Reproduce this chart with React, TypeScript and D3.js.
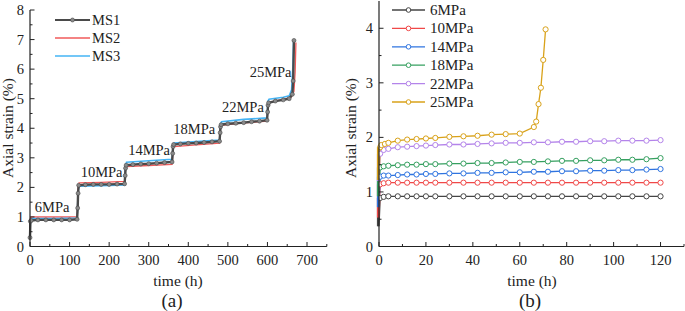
import React from "react";
import * as d3 from "d3";

// ---------- Panel (a) data ----------
const MS1_T = [0, 1, 3, 20, 40, 60, 80, 100, 119, 120.5, 121.5, 123, 140, 160, 180, 200, 220, 239, 240.5, 241.5, 243, 260, 280, 300, 320, 340, 359, 360.5, 361.5, 363, 380, 400, 420, 440, 460, 479, 480.5, 481.5, 483, 500, 520, 540, 560, 580, 599, 600.5, 601.5, 603, 620, 640, 655, 663, 665, 667];
const MS1_V = [0.3, 0.85, 0.88, 0.9, 0.9, 0.9, 0.9, 0.9, 0.92, 1.3, 1.8, 2.07, 2.09, 2.1, 2.1, 2.1, 2.11, 2.12, 2.4, 2.65, 2.75, 2.77, 2.79, 2.8, 2.82, 2.84, 2.86, 3.15, 3.38, 3.45, 3.47, 3.49, 3.5, 3.52, 3.54, 3.56, 3.85, 4.05, 4.12, 4.15, 4.17, 4.19, 4.22, 4.24, 4.27, 4.55, 4.78, 4.86, 4.92, 4.96, 5.0, 5.15, 5.6, 6.97];
const MS2_T = [0, 1, 3, 60, 119, 120.5, 121.5, 124, 180, 239, 240.5, 241.5, 244, 300, 359, 360.5, 361.5, 364, 420, 479, 480.5, 481.5, 484, 540, 599, 600.5, 601.5, 604, 640, 660, 667, 670, 672];
const MS2_V = [0.4, 0.95, 1.0, 1.0, 1.01, 1.5, 2.0, 2.15, 2.17, 2.2, 2.45, 2.62, 2.7, 2.74, 2.78, 3.05, 3.3, 3.38, 3.44, 3.5, 3.8, 4.03, 4.1, 4.18, 4.24, 4.55, 4.78, 4.88, 4.98, 5.05, 5.25, 5.9, 6.9];
const MS3_T = [0, 1, 3, 60, 119, 120.5, 121.5, 124, 180, 239, 240.5, 241.5, 244, 300, 359, 360.5, 361.5, 364, 420, 479, 480.5, 481.5, 484, 540, 599, 600.5, 601.5, 604, 640, 655, 661, 664, 666];
const MS3_V = [0.35, 0.9, 0.95, 0.95, 0.97, 1.4, 1.9, 2.04, 2.06, 2.08, 2.45, 2.75, 2.85, 2.9, 2.95, 3.2, 3.45, 3.5, 3.55, 3.6, 3.9, 4.15, 4.22, 4.3, 4.35, 4.7, 4.92, 4.98, 5.05, 5.1, 5.3, 6.0, 6.95];
const STAGE_LABELS = ["6MPa", "10MPa", "14MPa", "18MPa", "22MPa", "25MPa"];
const STAGE_LABEL_X = [12, 128, 248, 362, 485, 555];
const STAGE_LABEL_Y = [1.17, 2.35, 3.1, 3.8, 4.55, 5.72];
const X_TICKS_A = [0, 100, 200, 300, 400, 500, 600, 700];
const Y_TICKS_A = [0, 1, 2, 3, 4, 5, 6, 7, 8];
const LEGEND_A = ["MS1", "MS2", "MS3"];

// ---------- Panel (b) data ----------
const TIME_B = [0, 0.5, 2, 4, 8, 12, 16, 20, 24, 30, 36, 42, 48, 54, 60, 66, 72, 78, 84, 90, 96, 102, 108, 114, 120];
const S6 = [0.37, 0.89, 0.91, 0.92, 0.92, 0.92, 0.92, 0.92, 0.92, 0.92, 0.92, 0.92, 0.92, 0.92, 0.92, 0.92, 0.92, 0.92, 0.92, 0.92, 0.92, 0.92, 0.92, 0.92, 0.92];
const S10 = [0.53, 1.14, 1.16, 1.17, 1.17, 1.17, 1.17, 1.17, 1.17, 1.17, 1.17, 1.17, 1.17, 1.17, 1.17, 1.17, 1.17, 1.17, 1.17, 1.17, 1.17, 1.17, 1.17, 1.17, 1.17];
const S14 = [0.72, 1.28, 1.3, 1.3, 1.31, 1.32, 1.32, 1.33, 1.33, 1.34, 1.34, 1.35, 1.35, 1.36, 1.36, 1.37, 1.37, 1.38, 1.38, 1.39, 1.39, 1.4, 1.4, 1.41, 1.42];
const S18 = [0.92, 1.45, 1.47, 1.48, 1.49, 1.5, 1.5, 1.51, 1.51, 1.52, 1.52, 1.53, 1.53, 1.54, 1.55, 1.55, 1.56, 1.57, 1.57, 1.58, 1.58, 1.59, 1.59, 1.6, 1.62];
const S22 = [1.2, 1.7, 1.77, 1.79, 1.82, 1.83, 1.84, 1.85, 1.86, 1.87, 1.87, 1.88, 1.89, 1.9, 1.9, 1.91, 1.91, 1.92, 1.92, 1.93, 1.93, 1.94, 1.94, 1.94, 1.95];
const TIME_25 = [0, 0.5, 1, 2.5, 4, 8, 12, 16, 20, 24, 30, 36, 42, 48, 54, 60, 66, 67, 68, 69, 70, 71];
const S25 = [1.22, 1.82, 1.86, 1.88, 1.9, 1.94, 1.96, 1.97, 1.98, 1.99, 2.01, 2.02, 2.03, 2.05, 2.06, 2.07, 2.19, 2.29, 2.61, 2.91, 3.42, 3.98];
const LEGEND_B = ["6MPa", "10MPa", "14MPa", "18MPa", "22MPa", "25MPa"];
const COLORS_B = ["#454545", "#f04848", "#2f74e0", "#36a060", "#b484ea", "#d9a21a"];
const X_TICKS_B = [0, 20, 40, 60, 80, 100, 120];
const Y_TICKS_B = [0, 1, 2, 3, 4];

const FONT = "\"Liberation Serif\", \"Times New Roman\", serif";

export default function App() {
  // panel a scales
  const xa = d3.scaleLinear().domain([0, 750]).range([30, 326.8]);
  const ya = d3.scaleLinear().domain([0, 8]).range([246.5, 10]);
  // panel b scales
  const xb = d3.scaleLinear().domain([0, 130]).range([379, 684]);
  const yb = d3.scaleLinear().domain([0, 4.5]).range([246.5, 1]);

  const lineA = (T: number[], V: number[]) =>
    d3.line<number>().x((_, i) => xa(T[i])).y((v) => ya(v))(V) || "";
  const lineB = (T: number[], V: number[]) =>
    d3.line<number>().x((_, i) => xb(T[i])).y((v) => yb(v))(V) || "";

  const seriesB = [
    { t: TIME_B, v: S6 },
    { t: TIME_B, v: S10 },
    { t: TIME_B, v: S14 },
    { t: TIME_B, v: S18 },
    { t: TIME_B, v: S22 },
    { t: TIME_25, v: S25 },
  ];

  const minorA = d3.range(50, 751, 100);
  const minorAY = d3.range(0.5, 8, 1);
  const minorB = d3.range(10, 131, 20);
  const minorBY = d3.range(0.5, 4.5, 1);
  const txt = { fontFamily: FONT };

  return (
    <svg width={685} height={311} style={{ display: "block", position: "absolute", left: 0, top: 0, background: "#fff", fontFamily: FONT }}>
      <rect width={685} height={311} fill="#fff" />
      {/* ---------- Panel (a) ---------- */}
      <g>
        <path d={lineA(MS3_T, MS3_V)} fill="none" stroke="#45b4f5" strokeWidth={1.6} />
        <path d={lineA(MS2_T, MS2_V)} fill="none" stroke="#f05a5a" strokeWidth={1.3} />
        <path d={lineA(MS1_T, MS1_V)} fill="none" stroke="#4a4a4a" strokeWidth={2.4} />
        {MS1_V.map((v, i) => (
          <circle key={i} cx={xa(MS1_T[i])} cy={ya(v)} r={2} fill="#8a8a8a" stroke="#4a4a4a" strokeWidth={0.6} />
        ))}
        <line x1={30} y1={246.5} x2={326.8} y2={246.5} stroke="#222" strokeWidth={1.2} />
        <line x1={30} y1={246.5} x2={30} y2={10} stroke="#222" strokeWidth={1.2} />
        {X_TICKS_A.map((t) => (
          <g key={t}>
            <line x1={xa(t)} x2={xa(t)} y1={246.5} y2={242} stroke="#222" strokeWidth={1} />
            <text x={xa(t)} y={265} textAnchor="middle" fontSize={14.5} fill="#222" style={txt}>{t}</text>
          </g>
        ))}
        {minorA.map((t) => (
          <line key={t} x1={xa(t)} x2={xa(t)} y1={246.5} y2={244} stroke="#222" strokeWidth={1} />
        ))}
        {Y_TICKS_A.map((t) => (
          <g key={t}>
            <line x1={30} x2={34.5} y1={ya(t)} y2={ya(t)} stroke="#222" strokeWidth={1} />
            <text x={24} y={ya(t) + 5} textAnchor="end" fontSize={14.5} fill="#222" style={txt}>{t}</text>
          </g>
        ))}
        {minorAY.map((t) => (
          <line key={t} x1={30} x2={32.5} y1={ya(t)} y2={ya(t)} stroke="#222" strokeWidth={1} />
        ))}
        <text x={178} y={286} textAnchor="middle" fontSize={15.5} fill="#222" style={txt}>time (h)</text>
        <text x={172} y={307} textAnchor="middle" fontSize={19} fill="#222" style={txt}>(a)</text>
        <text transform={`translate(13,128) rotate(-90)`} textAnchor="middle" fontSize={15.5} fill="#222" style={txt}>Axial strain (%)</text>
        {STAGE_LABELS.map((s, i) => (
          <text key={s} x={xa(STAGE_LABEL_X[i])} y={ya(STAGE_LABEL_Y[i])} fontSize={14.5} fill="#222" style={txt}>{s}</text>
        ))}
        {LEGEND_A.map((s, i) => {
          const y = 20 + i * 18;
          const col = ["#4a4a4a", "#f05a5a", "#45b4f5"][i];
          return (
            <g key={s}>
              <line x1={55} x2={90} y1={y} y2={y} stroke={col} strokeWidth={i === 0 ? 2 : 1.5} />
              {i === 0 && <circle cx={72.5} cy={y} r={2} fill="#8a8a8a" stroke="#4a4a4a" strokeWidth={0.6} />}
              <text x={92} y={y + 5} fontSize={14.5} fill="#222" style={txt}>{s}</text>
            </g>
          );
        })}
      </g>

      {/* ---------- Panel (b) ---------- */}
      <g>
        {seriesB.map((s, k) => (
          <path key={k} d={lineB(s.t, s.v)} fill="none" stroke={COLORS_B[k]} strokeWidth={1.3} />
        ))}
        {seriesB.map((s, k) => (
          <g key={"m" + k}>
            {s.v.map((v, i) =>
              i === 0 ? null : (
                <circle key={i} cx={xb(s.t[i])} cy={yb(v)} r={2.6} fill="#fff" stroke={COLORS_B[k]} strokeWidth={1} />
              )
            )}
          </g>
        ))}
        {seriesB.map((s, k) => (
          <line key={"v" + k} x1={xb(0) - 1} x2={xb(0) - 1} y1={yb(s.v[0])} y2={yb(s.v[1])} stroke={COLORS_B[k]} strokeWidth={2.2} />
        ))}
        <line x1={379} y1={246.5} x2={684} y2={246.5} stroke="#222" strokeWidth={1.2} />
        <line x1={379} y1={246.5} x2={379} y2={1} stroke="#222" strokeWidth={1.2} />
        {X_TICKS_B.map((t) => (
          <g key={t}>
            <line x1={xb(t)} x2={xb(t)} y1={246.5} y2={242} stroke="#222" strokeWidth={1} />
            <text x={xb(t)} y={265} textAnchor="middle" fontSize={14.5} fill="#222" style={txt}>{t}</text>
          </g>
        ))}
        {minorB.map((t) => (
          <line key={t} x1={xb(t)} x2={xb(t)} y1={246.5} y2={244} stroke="#222" strokeWidth={1} />
        ))}
        {Y_TICKS_B.map((t) => (
          <g key={t}>
            <line x1={379} x2={383.5} y1={yb(t)} y2={yb(t)} stroke="#222" strokeWidth={1} />
            <text x={373} y={yb(t) + 5} textAnchor="end" fontSize={14.5} fill="#222" style={txt}>{t}</text>
          </g>
        ))}
        {minorBY.map((t) => (
          <line key={t} x1={379} x2={381.5} y1={yb(t)} y2={yb(t)} stroke="#222" strokeWidth={1} />
        ))}
        <text x={532} y={286} textAnchor="middle" fontSize={15.5} fill="#222" style={txt}>time (h)</text>
        <text x={530} y={307} textAnchor="middle" fontSize={19} fill="#222" style={txt}>(b)</text>
        <text transform={`translate(356,128) rotate(-90)`} textAnchor="middle" fontSize={15.5} fill="#222" style={txt}>Axial strain (%)</text>
        {LEGEND_B.map((s, i) => {
          const y = 10 + i * 18.4;
          return (
            <g key={s}>
              <line x1={392} x2={425} y1={y} y2={y} stroke={COLORS_B[i]} strokeWidth={1.3} />
              <circle cx={408.5} cy={y} r={2.3} fill="#fff" stroke={COLORS_B[i]} strokeWidth={1} />
              <text x={430} y={y + 5} fontSize={15} fill="#222" style={txt}>{s}</text>
            </g>
          );
        })}
      </g>
    </svg>
  );
}
